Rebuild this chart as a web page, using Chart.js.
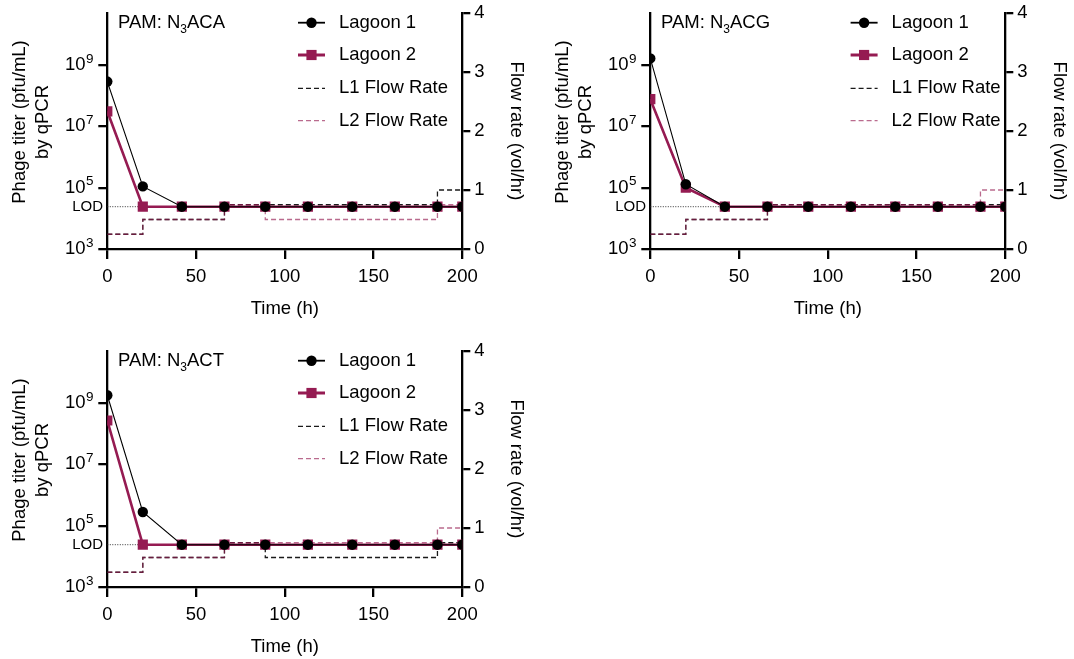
<!DOCTYPE html>
<html>
<head>
<meta charset="utf-8">
<script src="https://cdn.jsdelivr.net/npm/chart.js@4"></script>
<style>
  html, body { margin: 0; padding: 0; background: #fff; overflow: hidden; }
  .panel { position: absolute; }
</style>
</head>
<body>
<div class="panel" style="left:0;top:0"><canvas id="c1" width="535" height="322"></canvas></div>
<div class="panel" style="left:543px;top:0"><canvas id="c2" width="535" height="322"></canvas></div>
<div class="panel" style="left:0;top:338px"><canvas id="c3" width="535" height="322"></canvas></div>
<script>
// sampling times (h)
const hours = [0, 20, 42, 66, 89, 113, 138, 162, 186, 200];
const lodValue = 2.4e4;

// phage titers (pfu/mL)
const acaLagoon1 = [2.9e8, 1.1e5, 2.4e4, 2.4e4, 2.4e4, 2.4e4, 2.4e4, 2.4e4, 2.4e4, 2.4e4];
const acaLagoon2 = [3.1e7, 2.4e4, 2.4e4, 2.4e4, 2.4e4, 2.4e4, 2.4e4, 2.4e4, 2.4e4, 2.4e4];
const acgLagoon1 = [1.65e9, 1.3e5, 2.4e4, 2.4e4, 2.4e4, 2.4e4, 2.4e4, 2.4e4, 2.4e4, 2.4e4];
const acgLagoon2 = [7.7e7, 1.0e5, 2.4e4, 2.4e4, 2.4e4, 2.4e4, 2.4e4, 2.4e4, 2.4e4, 2.4e4];
const actLagoon1 = [1.8e9, 2.8e5, 2.4e4, 2.4e4, 2.4e4, 2.4e4, 2.4e4, 2.4e4, 2.4e4, 2.4e4];
const actLagoon2 = [2.7e8, 2.4e4, 2.4e4, 2.4e4, 2.4e4, 2.4e4, 2.4e4, 2.4e4, 2.4e4, 2.4e4];

// flow rate steps (vol/hr): each value holds from its time until the next time
const flowTimes = [0, 20, 66, 89, 186, 200];
const acaFlow1 = [0.25, 0.5, 0.75, 0.75, 1, 1];
const acaFlow2 = [0.25, 0.5, 0.75, 0.5, 0.75, 0.75];
const acgFlow1 = [0.25, 0.5, 0.75, 0.75, 0.75, 0.75];
const acgFlow2 = [0.25, 0.5, 0.75, 0.75, 1, 1];
const actFlow1 = [0.25, 0.5, 0.75, 0.5, 0.75, 0.75];
const actFlow2 = [0.25, 0.5, 0.75, 0.75, 1, 1];

const titerTicks = [1e3, 1e5, 1e7, 1e9];
const seriesNames = ['Lagoon 1', 'Lagoon 2', 'L1 Flow Rate', 'L2 Flow Rate'];

const FONT = '"Liberation Sans", Arial, sans-serif';
const MAROON = '#951b52';
const MAROON_DASH = 'rgba(149,27,82,0.65)';
Chart.defaults.font.family = FONT;
Chart.defaults.color = '#000';

function pts(xs, ys) {
  return xs.map((x, i) => ({ x: x, y: ys[i] }));
}

// turn "value at start of interval" into corner points of the step line
function stepPts(xs, ys) {
  const out = [{ x: xs[0], y: ys[0] }];
  for (let i = 1; i < xs.length; i++) out.push({ x: xs[i], y: ys[i - 1] }, { x: xs[i], y: ys[i] });
  return out;
}

// legend, panel label, LOD mark, exponents and left title drawn on top of the chart
const decor = {
  id: 'decor',
  afterDraw(chart, args, opts) {
    const ctx = chart.ctx;
    const yS = chart.scales.y;
    ctx.save();
    ctx.fillStyle = '#000';
    ctx.textBaseline = 'middle';

    // exponents of the titer tick labels
    ctx.font = '13.5px ' + FONT;
    ctx.textAlign = 'left';
    yS.ticks.forEach(t => {
      const py = yS.getPixelForValue(t.value);
      ctx.fillText(String(Math.round(Math.log10(t.value))), 86, py - 6);
    });

    // PAM label with subscript
    let x = 118;
    const ty = 22.7;
    ctx.font = '18.5px ' + FONT;
    ctx.fillText('PAM: N', x, ty);
    x += ctx.measureText('PAM: N').width;
    ctx.font = '12px ' + FONT;
    ctx.fillText('3', x, ty + 7);
    x += ctx.measureText('3').width;
    ctx.font = '18.5px ' + FONT;
    ctx.fillText(opts.pam, x, ty);

    // LOD label
    ctx.font = '15px ' + FONT;
    ctx.textAlign = 'right';
    ctx.fillText('LOD', 103, yS.getPixelForValue(lodValue));

    // left axis title (two lines)
    ctx.font = '18.5px ' + FONT;
    ctx.textAlign = 'center';
    [['Phage titer (pfu/mL)', 20.1], ['by qPCR', 42.5]].forEach(([t, lx]) => {
      ctx.save();
      ctx.translate(lx, 122);
      ctx.rotate(-Math.PI / 2);
      ctx.fillText(t, 0, 0);
      ctx.restore();
    });

    // legend
    const rows = [22.7, 55, 88.3, 120.7];
    const lx = opts.legendX;
    chart.data.datasets.slice(0, 4).forEach((ds, i) => {
      const y = rows[i];
      ctx.save();
      ctx.strokeStyle = ds.borderColor;
      ctx.lineWidth = ds.legendWidth;
      ctx.setLineDash(ds.borderDash || []);
      ctx.beginPath();
      ctx.moveTo(lx, y);
      ctx.lineTo(lx + 27, y);
      ctx.stroke();
      ctx.setLineDash([]);
      ctx.fillStyle = ds.pointBackgroundColor;
      if (ds.pointStyle === 'circle' && ds.pointRadius) {
        ctx.beginPath();
        ctx.arc(lx + 13.5, y, ds.pointRadius, 0, Math.PI * 2);
        ctx.fill();
      } else if (ds.pointStyle === 'rect' && ds.pointRadius) {
        const h = ds.pointRadius * Math.SQRT1_2;
        ctx.fillRect(lx + 13.5 - h, y - h, 2 * h, 2 * h);
      }
      ctx.restore();
      ctx.font = '18.5px ' + FONT;
      ctx.textAlign = 'left';
      ctx.fillStyle = '#000';
      ctx.fillText(seriesNames[i], lx + 41, y);
    });
    ctx.restore();
  }
};

function makePanel(id, pam, lag1, lag2, flow1, flow2, legendX) {
  const axisStyle = { color: '#000', width: 2.3 };
  new Chart(document.getElementById(id), {
    type: 'line',
    data: {
      datasets: [
        { label: seriesNames[0], data: pts(hours, lag1), yAxisID: 'y', order: 0,
          borderColor: '#000', borderWidth: 1.1, legendWidth: 1.8,
          pointStyle: 'circle', pointRadius: 5.2, pointBackgroundColor: '#000', pointBorderWidth: 0 },
        { label: seriesNames[1], data: pts(hours, lag2), yAxisID: 'y', order: 1,
          borderColor: MAROON, borderWidth: 2.6, legendWidth: 3,
          pointStyle: 'rect', pointRadius: 7.2, pointBackgroundColor: MAROON, pointBorderWidth: 0 },
        { label: seriesNames[2], data: stepPts(flowTimes, flow1), yAxisID: 'y2', order: 3,
          borderColor: '#1a1a1a', borderWidth: 1.3, legendWidth: 1.3, borderDash: [5, 3], pointRadius: 0 },
        { label: seriesNames[3], data: stepPts(flowTimes, flow2), yAxisID: 'y2', order: 2,
          borderColor: MAROON_DASH, borderWidth: 1.3, legendWidth: 1.3, borderDash: [5, 3], pointRadius: 0 },
        { label: 'LOD', data: pts([0, 200], [lodValue, lodValue]), yAxisID: 'y', order: 4,
          borderColor: '#333', borderWidth: 1, borderDash: [1, 1.5], pointRadius: 0 }
      ]
    },
    options: {
      responsive: false,
      animation: false,
      layout: { padding: { top: 13, left: 0, right: 0, bottom: 0 } },
      plugins: { legend: { display: false }, tooltip: { enabled: false }, decor: { pam: pam, legendX: legendX } },
      scales: {
        x: {
          type: 'linear', min: 0, max: 200,
          ticks: { stepSize: 50, font: { size: 18.5 }, padding: 7, maxRotation: 0 },
          grid: { drawOnChartArea: false, tickLength: 10, color: '#000', lineWidth: 2.3 },
          border: axisStyle,
          title: { display: true, text: 'Time (h)', font: { size: 18.5 }, padding: { top: 0, bottom: 1.6 } },
          afterFit: s => { s.height = 322 - 249; s.paddingLeft = 0; s.paddingRight = 0; }
        },
        y: {
          type: 'logarithmic', position: 'left', min: 1e3, max: 5e10,
          afterBuildTicks: s => { s.ticks = titerTicks.map(v => ({ value: v })); },
          ticks: { font: { size: 18.5 }, padding: 12.7, callback: () => '10' },
          grid: { drawOnChartArea: false, tickLength: 9, color: '#000', lineWidth: 2.3 },
          border: axisStyle,
          afterFit: s => { s.width = 107.3; s.paddingTop = 0; s.paddingBottom = 0; }
        },
        y2: {
          type: 'linear', position: 'right', min: 0, max: 4,
          ticks: { stepSize: 1, font: { size: 18.5 }, padding: 4 },
          grid: { drawOnChartArea: false, tickLength: 8, color: '#000', lineWidth: 2.3 },
          border: axisStyle,
          title: { display: true, text: 'Flow rate (vol/hr)', font: { size: 18.5 }, padding: { top: 7.7, bottom: 0 } },
          afterFit: s => { s.width = 535 - 462.3; s.paddingTop = 0; s.paddingBottom = 0; }
        }
      }
    },
    plugins: [decor]
  });
}

makePanel('c1', 'ACA', acaLagoon1, acaLagoon2, acaFlow1, acaFlow2, 298);
makePanel('c2', 'ACG', acgLagoon1, acgLagoon2, acgFlow1, acgFlow2, 307.6);
makePanel('c3', 'ACT', actLagoon1, actLagoon2, actFlow1, actFlow2, 298);
</script>
</body>
</html>
